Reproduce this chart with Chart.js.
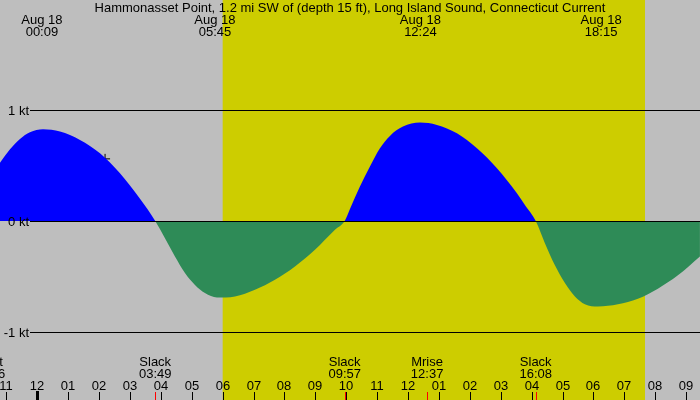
<!DOCTYPE html>
<html>
<head>
<meta charset="utf-8">
<script src="https://cdn.jsdelivr.net/npm/chart.js@4/dist/chart.umd.min.js"></script>
<style>
  html, body { margin: 0; padding: 0; background: #bebebe; }
  canvas { display: block; }
</style>
</head>
<body>
<canvas id="tideChart" width="700" height="400"></canvas>
<script>
// Current speed (kt) against hours from midnight Aug 18
const hours = [-1.207, -0.883, -0.56, -0.236, 0.184, 0.735, 1.382, 2.029, 2.676, 3.324, 3.817,
               4.456, 4.78, 5.104, 5.427, 5.816, 6.398, 7.045, 7.693, 8.34, 8.987, 9.634, 9.95,
               10.12, 10.443, 10.767, 11.091, 11.414, 11.835, 12.385, 12.935, 13.583, 14.23, 14.877, 15.524, 15.783, 16.133,
               16.43, 16.754, 17.078, 17.401, 17.725, 18.146, 18.793, 19.44, 20.087, 20.735, 21.447];
const speeds = [0.525, 0.646, 0.739, 0.799, 0.826, 0.805, 0.73, 0.61, 0.43, 0.2, 0,
                -0.32, -0.47, -0.577, -0.65, -0.69, -0.68, -0.62, -0.53, -0.41, -0.26, -0.08, 0,
                0.108, 0.31, 0.49, 0.655, 0.766, 0.85, 0.886, 0.865, 0.79, 0.655, 0.475, 0.25, 0.144, 0,
                -0.2, -0.4, -0.56, -0.68, -0.75, -0.77, -0.75, -0.7, -0.61, -0.49, -0.32];

// Level lines
const levelValues = [1, 0, -1];
const levelLabels = ['1 kt', '0 kt', '-1 kt'];

// Max / min current labels along the top
const topTimes = [0.15, 5.75, 12.4, 18.25];
const topLabels = ['00:09', '05:45', '12:24', '18:15'];

// Events along the bottom
const eventTimes = [-1.567, 3.817, 9.95, 12.617, 16.133];
const eventNames = ['Mset', 'Slack', 'Slack', 'Mrise', 'Slack'];
const eventLabels = ['22:26', '03:49', '09:57', '12:37', '16:08'];

// Daylight band and hour ticks
const daylight = [6.0, 19.67];
const hourTicks = [-1, 0, 1, 2, 3, 4, 5, 6, 7, 8, 9, 10, 11, 12, 13, 14, 15, 16, 17, 18, 19, 20, 21];

// Current time marker
const nowPoint = [{ x: 2.194, y: 0.559 }];

const FONT = '13px "Liberation Sans", Arial, sans-serif';

// Background: gray with yellow daylight band
const backdrop = {
    id: 'backdrop',
    beforeDraw(chart) {
        const { ctx, scales: { x } } = chart;
        ctx.save();
        ctx.fillStyle = '#bebebe';
        ctx.fillRect(0, 0, chart.width, chart.height);
        ctx.fillStyle = '#cdcd00';
        const x0 = x.getPixelForValue(daylight[0]);
        const x1 = x.getPixelForValue(daylight[1]);
        ctx.fillRect(x0, 0, x1 - x0, chart.height);
        ctx.restore();
    }
};

// Level lines, labels, ticks
const overlay = {
    id: 'overlay',
    afterDatasetsDraw(chart) {
        const { ctx, scales: { x, y } } = chart;
        ctx.save();
        ctx.font = FONT;
        ctx.fillStyle = '#000';
        ctx.strokeStyle = '#000';

        // kt lines
        ctx.lineWidth = 1;
        ctx.textAlign = 'right';
        ctx.textBaseline = 'middle';
        levelValues.forEach((v, i) => {
            const py = Math.round(y.getPixelForValue(v)) + 0.5;
            ctx.beginPath();
            ctx.moveTo(30, py);
            ctx.lineTo(chart.width, py);
            ctx.stroke();
            ctx.fillText(levelLabels[i], 29, py + 1);
        });

        // title
        ctx.textAlign = 'center';
        ctx.textBaseline = 'alphabetic';
        ctx.fillText('Hammonasset Point, 1.2 mi SW of (depth 15 ft), Long Island Sound, Connecticut Current', 350, 12);

        // top labels
        topTimes.forEach((t, i) => {
            const px = x.getPixelForValue(t);
            ctx.fillText('Aug 18', px, 24);
            ctx.fillText(topLabels[i], px, 36);
        });

        // bottom events
        eventTimes.forEach((t, i) => {
            const px = x.getPixelForValue(t);
            ctx.fillText(eventNames[i], px, 366);
            ctx.fillText(eventLabels[i], px, 378);
            ctx.fillStyle = '#ff0000';
            ctx.fillRect(Math.round(px), 392, 1, 8);
            ctx.fillStyle = '#000';
        });

        // hour ticks
        hourTicks.forEach(h => {
            const px = Math.round(x.getPixelForValue(h));
            const hh = ((h % 12) + 12) % 12 || 12;
            ctx.fillText(String(hh).padStart(2, '0'), px, 390);
            if (h === 0) ctx.fillRect(px - 1, 391, 3, 9);
            else ctx.fillRect(px, 392, 1, 8);
        });
        ctx.restore();
    }
};

new Chart(document.getElementById('tideChart'), {
    type: 'line',
    data: {
        datasets: [{
            data: hours.map((h, i) => ({ x: h, y: speeds[i] })),
            borderWidth: 0,
            pointRadius: 0,
            cubicInterpolationMode: 'monotone',
            fill: { target: 'origin', above: '#0000ff', below: '#2e8b57' }
        }, {
            data: nowPoint,
            showLine: false,
            pointStyle: 'cross',
            pointRadius: 5,
            borderColor: '#000',
            borderWidth: 1
        }]
    },
    options: {
        responsive: false,
        animation: false,
        devicePixelRatio: 1,
        layout: { padding: 0, autoPadding: false },
        plugins: { legend: { display: false }, tooltip: { enabled: false } },
        scales: {
            x: { type: 'linear', min: -1.207, max: 21.45, display: false },
            y: { min: -1.613, max: 1.99, display: false }
        }
    },
    plugins: [backdrop, overlay]
});
</script>
</body>
</html>
